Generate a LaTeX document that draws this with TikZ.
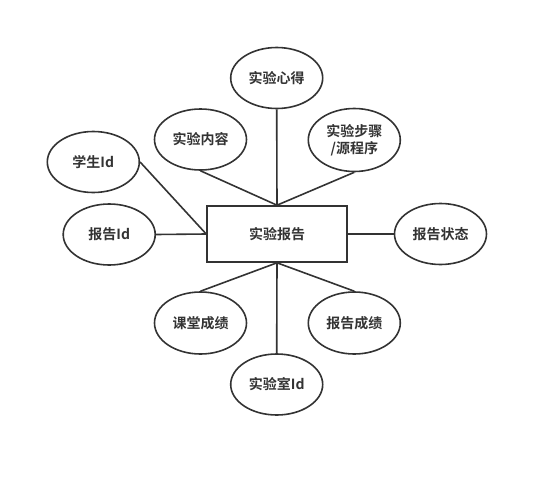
\documentclass[tikz,border=0pt]{standalone}
\usepackage{fontspec}
\setmainfont{Noto Sans CJK SC}[BoldFont={* Bold}]
\usetikzlibrary{shapes.geometric}
\definecolor{ink}{HTML}{333333}
\begin{document}
\begin{tikzpicture}[x=1pt,y=-1pt,
  attr/.style={ellipse,draw=ink,line width=1.6pt,minimum width=92pt,minimum height=61pt,inner sep=0pt,text=ink,font=\fontsize{14}{17}\selectfont\bfseries,align=center},
  ent/.style={rectangle,draw=ink,line width=1.6pt,minimum width=140pt,minimum height=56pt,text=ink,font=\fontsize{14}{17}\selectfont\bfseries},
  link/.style={draw=ink,line width=1.6pt}]
\useasboundingbox (0,0) rectangle (547,477);
\node[ent] (r) at (277,234) {实验报告};
\node[attr] (xd) at (276.7,78) {实验心得};
\node[attr] (nr) at (200.5,139.5) {实验内容};
\node[attr,minimum height=63pt] (bz) at (354.3,140) {实验步骤\\/源程序};
\node[attr] (xs) at (93.3,162) {学生Id};
\node[attr] (bid) at (109.2,234.5) {报告Id};
\node[attr] (zt) at (440.5,234) {报告状态};
\node[attr,minimum height=62pt] (kt) at (200.5,323) {课堂成绩};
\node[attr,minimum height=62pt] (cj) at (354.3,323) {报告成绩};
\node[attr] (sys) at (276.7,384.5) {实验室Id};
\draw[link] (xd.south) -- (r.north);
\draw[link] (nr.south) -- (r.north);
\draw[link] (bz.south) -- (r.north);
\draw[link] (xs.east) -- (r.west);
\draw[link] (bid.east) -- (r.west);
\draw[link] (r.east) -- (zt.west);
\draw[link] (r.south) -- (kt.north);
\draw[link] (r.south) -- (cj.north);
\draw[link] (r.south) -- (sys.north);
\end{tikzpicture}
\end{document}
